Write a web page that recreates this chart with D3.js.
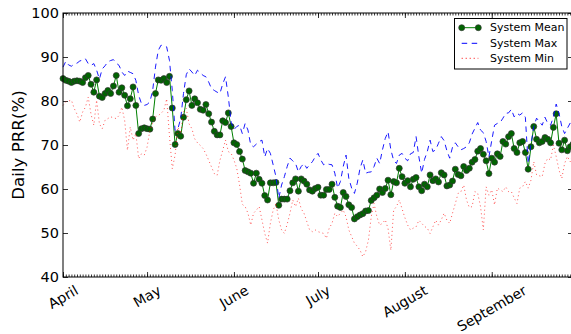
<!DOCTYPE html>
<html>
<head>
<meta charset="utf-8">
<script src="https://cdn.jsdelivr.net/npm/d3@7"></script>
<style>
  body { margin: 0; background: #fff; }
  svg { display: block; font-family: "DejaVu Sans", sans-serif; }
</style>
</head>
<body>
<script>
// month labels and y ticks
const months = ["April", "May", "June", "July", "August", "September"];
const yTicks = [40, 50, 60, 70, 80, 90, 100];
const seriesNames = ["System Mean", "System Max", "System Min"];

// daily values, Apr 1 .. Sep 30
const meanPRR = [
  85.1, 84.7, 84.5, 84.2, 84.5, 84.6, 84.5, 84.2, 85.3, 85.8,
  83.8, 82.0, 84.8, 81.1, 80.8, 81.7, 82.4, 81.7, 83.4, 85.8,
  82.0, 83.0, 81.3, 78.9, 80.5, 83.2, 79.0, 72.6, 73.7, 73.9,
  73.7, 73.6, 75.9, 81.7, 84.8, 84.7, 85.1, 84.2, 85.6, 78.4,
  70.1, 72.6, 72.0, 76.3, 80.3, 82.3, 79.0, 80.5, 79.6, 78.1,
  77.9, 79.2, 77.1, 75.2, 73.1, 72.3, 72.3, 75.5, 75.1, 77.3,
  74.2, 70.5, 70.1, 68.5, 66.8, 64.2, 63.9, 63.6, 61.3, 63.6,
  62.2, 61.3, 58.5, 57.5, 61.4, 61.4, 61.5, 56.3, 57.7, 57.7,
  57.7, 59.6, 61.4, 62.3, 59.5, 62.3, 61.8, 61.1, 59.8, 59.5,
  60.1, 60.4, 58.6, 58.6, 59.9, 59.9, 61.1, 58.1, 56.1, 55.8,
  59.2, 58.3, 56.4, 55.8, 53.2, 53.7, 54.1, 54.4, 55.0, 55.1,
  57.4, 58.0, 58.6, 60.0, 59.2, 60.1, 62.0, 58.7, 61.7, 61.4,
  64.7, 62.8, 61.3, 61.9, 60.5, 62.2, 62.6, 60.5, 59.6, 61.1,
  60.5, 63.2, 61.9, 62.3, 61.6, 63.7, 63.2, 60.7, 60.9, 61.8,
  64.5, 63.3, 63.0, 65.1, 64.2, 64.7, 66.1, 66.7, 68.6, 69.2,
  67.9, 66.4, 63.5, 67.0, 66.1, 68.0, 67.4, 70.8, 70.2, 71.9,
  72.6, 69.2, 68.3, 70.5, 70.8, 68.3, 64.5, 69.6, 74.2, 71.3,
  70.5, 70.8, 71.7, 71.3, 70.5, 74.0, 77.1, 70.4, 68.9, 71.1,
  68.7, 69.6, 70.2
];

const maxPRR = [
  87.7, 89.0, 88.2, 87.9, 88.4, 88.6, 89.1, 89.3, 89.6, 88.5,
  88.1, 88.5, 87.0, 85.0, 87.3, 88.0, 88.9, 89.2, 89.4, 88.6,
  88.1, 86.6, 85.8, 86.8, 86.5, 86.2, 84.7, 81.3, 79.4, 79.0,
  79.2, 79.8, 82.4, 87.7, 91.5, 92.7, 92.5, 92.3, 89.2, 82.4,
  73.3, 73.7, 76.0, 81.7, 86.0, 87.3, 86.6, 85.8, 87.0, 86.4,
  85.8, 85.5, 84.3, 82.8, 82.4, 82.0, 81.7, 83.9, 85.5, 80.9,
  75.2, 73.5, 74.2, 74.5, 72.6, 74.9, 73.4, 70.0, 69.6, 70.2,
  70.8, 71.1, 67.3, 69.2, 68.1, 65.5, 62.8, 57.9, 60.9, 62.8,
  65.1, 67.0, 66.4, 65.8, 63.9, 65.1, 65.8, 64.7, 65.5, 66.2,
  67.3, 68.1, 66.6, 65.5, 65.8, 65.6, 65.5, 63.6, 60.2, 61.7,
  65.1, 67.7, 62.4, 60.2, 59.0, 61.3, 64.7, 66.6, 63.6, 63.8,
  63.9, 65.1, 67.0, 65.8, 68.9, 71.5, 73.0, 68.9, 66.5, 65.8,
  67.7, 68.1, 67.0, 66.4, 68.0, 68.3, 71.9, 67.3, 63.6, 66.7,
  68.5, 71.1, 68.5, 68.9, 70.4, 71.9, 71.0, 68.7, 67.0, 69.5,
  70.5, 69.6, 68.9, 69.2, 69.6, 70.5, 72.5, 73.8, 75.1, 73.4,
  72.8, 70.8, 67.3, 71.0, 74.5, 74.9, 75.1, 76.1, 77.2, 77.3,
  78.1, 76.4, 77.2, 76.8, 77.3, 76.3, 65.8, 70.2, 74.2, 76.1,
  75.3, 74.5, 76.3, 74.9, 74.5, 76.4, 79.3, 77.2, 74.2, 72.6,
  73.8, 75.0, 74.5
];

const minPRR = [
  79.0, 79.8, 80.0, 80.2, 78.3, 77.0, 75.2, 77.5, 78.6, 80.9,
  77.0, 74.5, 80.2, 74.8, 73.7, 75.6, 76.0, 76.4, 76.2, 76.0,
  76.7, 78.6, 75.6, 68.8, 74.1, 71.1, 72.6, 66.9, 68.0, 67.7,
  69.5, 73.3, 75.0, 76.4, 76.7, 77.2, 77.9, 80.5, 72.0, 64.6,
  67.7, 74.1, 72.6, 77.5, 78.3, 74.8, 73.7, 71.4, 70.5, 69.9,
  69.2, 68.0, 66.5, 65.0, 63.5, 63.1, 66.5, 68.8, 71.1, 68.5,
  68.1, 66.6, 64.7, 61.0, 56.5, 56.0, 54.5, 51.8, 54.5, 55.2,
  56.0, 53.0, 49.9, 47.7, 52.2, 55.2, 56.7, 53.0, 50.7, 49.9,
  52.0, 54.5, 57.5, 56.0, 57.9, 55.5, 54.5, 52.6, 50.7, 50.3,
  50.7, 50.3, 50.1, 49.9, 48.8, 51.1, 52.2, 54.5, 53.7, 54.5,
  55.2, 53.7, 50.7, 49.2, 47.7, 47.0, 46.1, 44.6, 45.8, 48.4,
  53.7, 56.7, 53.7, 51.8, 52.2, 53.0, 51.0, 46.1, 55.2, 56.0,
  57.5, 55.5, 53.5, 51.8, 50.7, 51.1, 51.4, 52.9, 52.2, 51.5,
  51.1, 49.9, 51.4, 52.9, 51.8, 53.0, 54.5, 52.9, 52.2, 54.5,
  56.7, 59.0, 59.4, 60.9, 57.5, 55.8, 56.0, 59.4, 59.0, 56.0,
  50.7, 60.5, 58.6, 59.8, 56.4, 60.2, 59.8, 59.4, 60.5, 59.4,
  59.4, 58.0, 56.7, 60.2, 60.5, 61.7, 60.2, 62.0, 66.2, 63.2,
  63.0, 62.8, 65.8, 67.0, 66.6, 70.0, 67.4, 64.3, 62.4, 65.8,
  67.4, 66.2, 68.0
];

const W = 571, H = 334;
const plotL = 63, plotR = 573, plotT = 13, plotB = 277;

const start = new Date(2015, 3, 1);
const days = meanPRR.map((_, i) => d3.timeDay.offset(start, i));

const x = d3.scaleTime().domain([days[0], days[days.length - 1]]).range([plotL, plotR]);
const y = d3.scaleLinear().domain([40, 100]).range([plotB, plotT]);

const svg = d3.select("body").append("svg")
  .attr("width", W)
  .attr("height", H);

svg.append("rect").attr("width", W).attr("height", H).attr("fill", "#fff");

// ticks, all pointing inward
const minorDays = d3.timeDay.range(days[0], d3.timeDay.offset(days[days.length - 1], 1));
const monthStarts = d3.timeMonth.range(days[0], days[days.length - 1]);

function tickAxis(axis, tr) {
  const g = svg.append("g").attr("transform", tr).call(axis);
  g.select(".domain").remove();
  g.selectAll("line").attr("stroke", "#000").attr("stroke-width", 0.8);
  return g;
}

tickAxis(d3.axisBottom(x).tickValues(minorDays).tickSize(-2.5).tickFormat(""), `translate(0,${plotB})`);
tickAxis(d3.axisTop(x).tickValues(minorDays).tickSize(-2.5).tickFormat(""), `translate(0,${plotT})`);
tickAxis(d3.axisBottom(x).tickValues(monthStarts).tickSize(-5).tickFormat(""), `translate(0,${plotB})`);
tickAxis(d3.axisTop(x).tickValues(monthStarts).tickSize(-5).tickFormat(""), `translate(0,${plotT})`);
tickAxis(d3.axisRight(y).tickValues(yTicks).tickSize(-5).tickFormat(""), `translate(${plotR},0)`);

const yAxis = tickAxis(d3.axisLeft(y).tickValues(yTicks).tickSize(-5).tickPadding(4), `translate(${plotL},0)`);
yAxis.selectAll("text")
  .attr("font-size", 14.5)
  .attr("fill", "#000")
  .attr("font-family", "DejaVu Sans, sans-serif");

// month labels, rotated 30deg, top of rotated box just under the axis
const fs = 14;
monthStarts.forEach((d, i) => {
  const tx = x(d);
  const t = svg.append("text")
    .attr("font-size", fs)
    .attr("text-anchor", "middle")
    .attr("dominant-baseline", "central")
    .text(months[i]);
  const w = t.node().getComputedTextLength();
  const cy = 282 + (w * 0.5 + fs * 1.15 * 0.866) / 2;
  t.attr("x", tx).attr("y", cy).attr("transform", `rotate(-30,${tx},${cy})`);
});

// y label
svg.append("text")
  .attr("transform", `translate(18,${(plotT + plotB) / 2}) rotate(-90)`)
  .attr("text-anchor", "middle")
  .attr("dominant-baseline", "central")
  .attr("font-size", 16.7)
  .text("Daily PRR(%)");

// series
const line = d3.line().x((d, i) => x(days[i])).y(d => y(d));
const plot = svg.append("g");

plot.append("path").datum(meanPRR)
  .attr("d", line).attr("fill", "none")
  .attr("stroke", "green").attr("stroke-width", 1);

plot.selectAll("circle.mean").data(meanPRR).enter().append("circle")
  .attr("class", "mean")
  .attr("cx", (d, i) => x(days[i]))
  .attr("cy", d => y(d))
  .attr("r", 3)
  .attr("fill", "#006400")
  .attr("stroke", "#333")
  .attr("stroke-width", 0.7);

plot.append("path").datum(maxPRR)
  .attr("d", line).attr("fill", "none")
  .attr("stroke", "blue").attr("stroke-width", 0.9)
  .attr("stroke-dasharray", "5.5,4.5");

plot.append("path").datum(minPRR)
  .attr("d", line).attr("fill", "none")
  .attr("stroke", "red").attr("stroke-width", 0.8)
  .attr("stroke-opacity", 0.85)
  .attr("stroke-dasharray", "1,3");

// frame
svg.append("rect")
  .attr("x", plotL).attr("y", plotT)
  .attr("width", plotR - plotL).attr("height", plotB - plotT)
  .attr("fill", "none").attr("stroke", "#000").attr("stroke-width", 1);

// legend
const lg = svg.append("g");
lg.append("rect")
  .attr("x", 454.5).attr("y", 18.5).attr("width", 112.5).attr("height", 50.5)
  .attr("fill", "#fff").attr("stroke", "#000").attr("stroke-width", 1);

const rows = [27.7, 43.3, 58.3];
const styles = [
  {stroke: "green", dash: null},
  {stroke: "blue", dash: "5.5,4.5"},
  {stroke: "red", dash: "1,3"}
];
seriesNames.forEach((name, i) => {
  const ly = rows[i];
  lg.append("line")
    .attr("x1", 461.7).attr("x2", 478.3).attr("y1", ly).attr("y2", ly)
    .attr("stroke", styles[i].stroke).attr("stroke-width", 1)
    .attr("stroke-dasharray", styles[i].dash);
  if (i === 0) {
    [461.7, 478.3].forEach(cx => {
      lg.append("circle").attr("cx", cx).attr("cy", ly).attr("r", 3)
        .attr("fill", "#006400").attr("stroke", "#333").attr("stroke-width", 0.7);
    });
  }
  lg.append("text")
    .attr("x", 490).attr("y", ly)
    .attr("dominant-baseline", "central")
    .attr("font-size", 11)
    .text(name);
});
</script>
</body>
</html>
